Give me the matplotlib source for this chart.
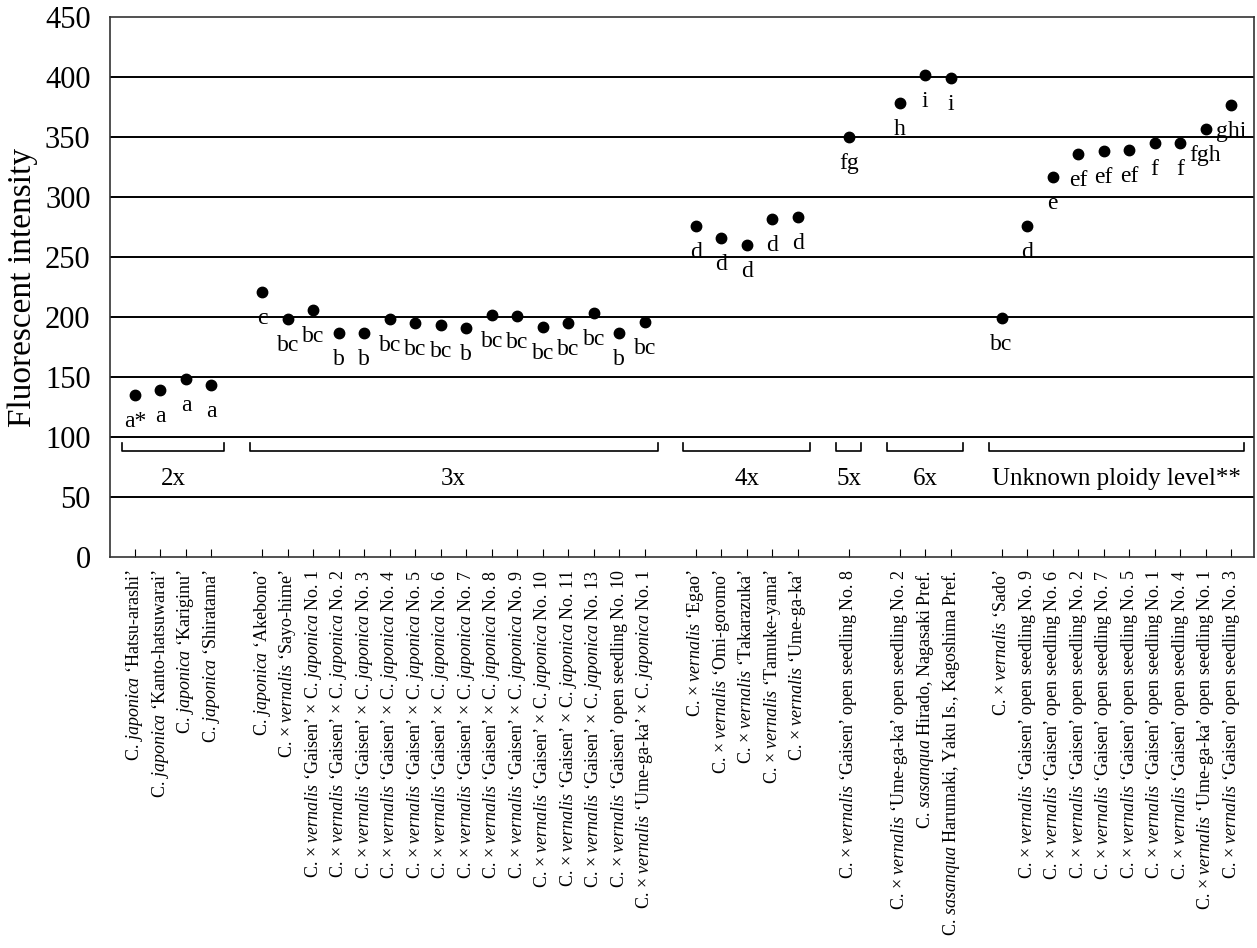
import matplotlib
matplotlib.use("Agg")
import matplotlib.pyplot as plt

plt.rcParams['font.family'] = ['Liberation Serif', 'DejaVu Serif']
plt.rcParams['mathtext.fontset'] = 'custom'
plt.rcParams['mathtext.rm'] = 'Liberation Serif'
plt.rcParams['mathtext.it'] = 'Liberation Serif:italic'

# data, one list per ploidy group
groups = ["2x", "3x", "4x", "5x", "6x", "Unknown ploidy level**"]

names_2x = ["C. japonica ‘Hatsu-arashi’", "C. japonica ‘Kanto-hatsuwarai’",
            "C. japonica ‘Kariginu’", "C. japonica ‘Shiratama’"]
vals_2x = [135, 139, 148, 143]
let_2x = ["a*", "a", "a", "a"]

names_3x = ["C. japonica ‘Akebono’", "C. × vernalis ‘Sayo-hime’"] + \
    ["C. × vernalis ‘Gaisen’ × C. japonica No. %d" % n for n in [1, 2, 3, 4, 5, 6, 7, 8, 9, 10, 11, 13]] + \
    ["C. × vernalis ‘Gaisen’ open seedling No. 10",
     "C. × vernalis ‘Ume-ga-ka’ × C. japonica No. 1"]
vals_3x = [221, 198, 206, 187, 187, 198, 195, 193, 191, 202, 201, 192, 195, 203, 187, 196]
let_3x = ["c", "bc", "bc", "b", "b", "bc", "bc", "bc", "b", "bc", "bc", "bc", "bc", "bc", "b", "bc"]

names_4x = ["C. × vernalis ‘Egao’", "C. × vernalis ‘Omi-goromo’", "C. × vernalis ‘Takarazuka’",
            "C. × vernalis ‘Tamuke-yama’", "C. × vernalis ‘Ume-ga-ka’"]
vals_4x = [276, 266, 260, 282, 283]
let_4x = ["d", "d", "d", "d", "d"]

names_5x = ["C. × vernalis ‘Gaisen’ open seedling No. 8"]
vals_5x = [350]
let_5x = ["fg"]

names_6x = ["C. × vernalis ‘Ume-ga-ka’ open seedling No. 2",
            "C. sasanqua Hirado, Nagasaki Pref.",
            "C. sasanqua Harumaki, Yaku Is., Kagoshima Pref."]
vals_6x = [378, 402, 399]
let_6x = ["h", "i", "i"]

names_unk = ["C. × vernalis ‘Sado’"] + \
    ["C. × vernalis ‘Gaisen’ open seedling No. %d" % n for n in [9, 6, 2, 7, 5, 1, 4]] + \
    ["C. × vernalis ‘Ume-ga-ka’ open seedling No. 1",
     "C. × vernalis ‘Gaisen’ open seedling No. 3"]
vals_unk = [199, 276, 317, 336, 338, 339, 345, 345, 357, 377]
let_unk = ["bc", "d", "e", "ef", "ef", "ef", "f", "f", "fgh", "ghi"]

all_names = [names_2x, names_3x, names_4x, names_5x, names_6x, names_unk]
all_vals = [vals_2x, vals_3x, vals_4x, vals_5x, vals_6x, vals_unk]
all_lets = [let_2x, let_3x, let_4x, let_5x, let_6x, let_unk]


def italicize(s):
    for w in ["japonica", "vernalis", "sasanqua"]:
        s = s.replace(w, r"$\mathit{%s}$" % w)
    return s


fig = plt.figure(figsize=(12.57, 9.48), dpi=100)
ax = fig.add_axes([0.0875, 0.4124, 0.9105, 0.5696])

# one empty slot between groups
xpos, labels = [], []
pos = 0
for gi in range(len(groups)):
    xs = list(range(pos, pos + len(all_names[gi])))
    ax.plot(xs, all_vals[gi], 'o', color='black', ms=7.5, zorder=3)
    for x, v, l in zip(xs, all_vals[gi], all_lets[gi]):
        ax.annotate(l, (x, v), xytext=(0, -19), textcoords='offset points',
                    ha='center', va='center', fontsize=17)
    # bracket under the 100 line
    x0, x1 = xs[0] - 0.5, xs[-1] + 0.5
    ax.plot([x0, x0, x1, x1], [95, 88, 88, 95], color='black', lw=1.2)
    ax.text((x0 + x1) / 2, 65, groups[gi], ha='center', va='center', fontsize=18)
    xpos += xs
    labels += [italicize(n) for n in all_names[gi]]
    pos += len(xs) + 1

ax.set_xlim(-0.98, 43.92)
ax.set_ylim(0, 450)
ax.set_yticks(range(0, 451, 50))
for y in range(50, 450, 50):
    ax.axhline(y, color='black', lw=1.4, zorder=1)
ax.tick_params(axis='y', length=0, pad=14, labelsize=22)
ax.set_xticks(xpos)
ax.set_xticklabels(labels, rotation=90, fontsize=13)
ax.tick_params(axis='x', direction='in', length=6, width=0.8, pad=9)
ax.set_ylabel("Fluorescent intensity", fontsize=24, labelpad=5)
for s in ax.spines.values():
    s.set_linewidth(1.2)
    s.set_color('#333333')

fig.savefig("out.png", dpi=100)
